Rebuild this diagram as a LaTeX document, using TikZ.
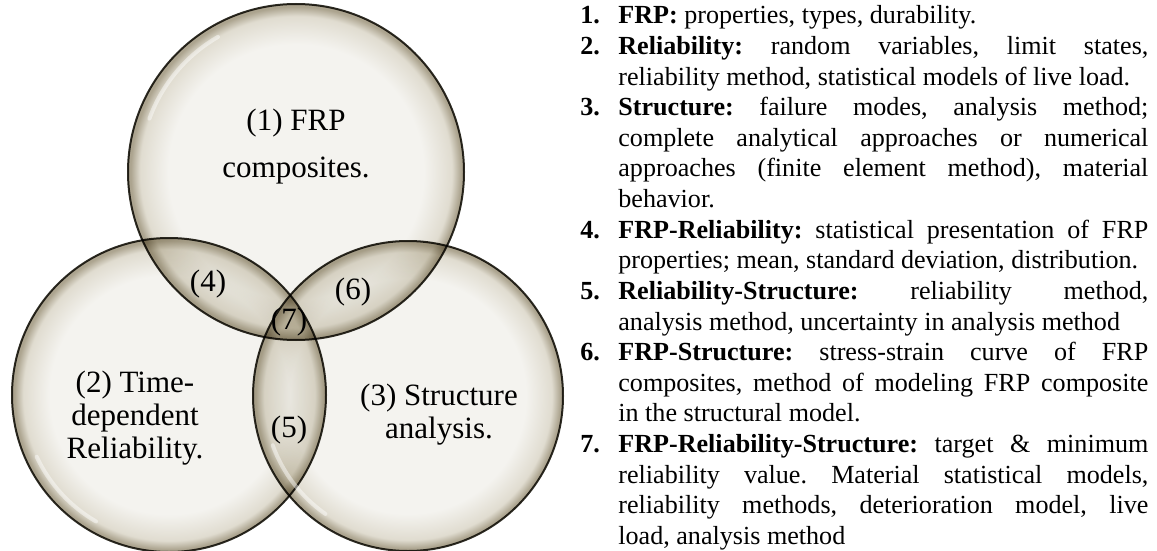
\documentclass[tikz,border=0pt]{standalone}
\usepackage{fontspec}
\setmainfont{Liberation Serif}

\definecolor{bubin}{HTML}{F4F3EF}
\definecolor{bubmid}{HTML}{E0DCD0}
\definecolor{bubout}{HTML}{ACA48F}
\definecolor{bubline}{HTML}{2E2C24}

\pgfdeclareradialshading{bubble}{\pgfpoint{0bp}{0bp}}{color(0bp)=(bubin); color(19bp)=(bubin); color(23.2bp)=(bubmid); color(24.6bp)=(bubout); color(25bp)=(bubout); color(50bp)=(bubout)}

\tikzset{
  bubblenode/.style={circle, inner sep=0pt, shading=bubble, draw=bubline, line width=1pt},
  gloss/.style={white, line width=2pt, opacity=.45, line cap=round},
  bigtext/.style={align=center, inner sep=0pt, font=\fontsize{15.5}{16.5}\selectfont},
  listitem/.style={anchor=base west, text width=265pt, align=justify, inner sep=0pt,
    font=\fontsize{13.05}{15.3}\selectfont}
}
\newcommand{\itemno}[1]{\llap{\makebox[19pt][l]{\textbf{#1.}}}}
\tolerance=10000
\hbadness=10000
\hyphenpenalty=10000
\exhyphenpenalty=10000
\hfuzz=3pt
\frenchspacing

\begin{document}
\begin{tikzpicture}[x=0.5pt, y=-0.5pt]
    \useasboundingbox (0,0) rectangle (1157,551);

    % the three bubbles
    \begin{scope}[blend mode=multiply]
        \node[bubblenode, minimum size=168pt] (frp) at (296,172) {};
        \node[bubblenode, minimum size=157pt] (rel) at (169,395) {};
        \node[bubblenode, minimum size=155pt] (str) at (408,396) {};
    \end{scope}
    \draw[gloss] (frp.center) ++(160:78pt) arc[start angle=160, end angle=120, radius=78pt];
    \draw[gloss] (rel.center) ++(205:73pt) arc[start angle=205, end angle=240, radius=73pt];
    \draw[gloss] (str.center) ++(200:72pt) arc[start angle=200, end angle=235, radius=72pt];

    % labels in the bubbles
    \node[bigtext] (frptext) at (296,147) {(1) FRP\\[7pt]composites.};
    \node[bigtext] (reltext) at (135,418) {(2) Time-\\dependent\\Reliability.};
    \node[bigtext] (strtext) at (439,415) {(3) Structure\\analysis.};
    \node[bigtext] (frprel) at (208,284) {(4)};
    \node[bigtext] (relstr) at (289,430) {(5)};
    \node[bigtext] (frpstr) at (353,292) {(6)};
    \node[bigtext] (all) at (289,322) {(7)};

    % the list
    \node[listitem] (item1) at (618,24) {\itemno{1}\textbf{FRP:} properties, types, durability.};
    \node[listitem] (item2) at (618,54.6) {\itemno{2}\textbf{Reliability:} random variables, limit states,\linebreak
        reliability method, statistical models of live load.};
    \node[listitem] (item3) at (618,115.8) {\itemno{3}\textbf{Structure:} failure modes, analysis method;\linebreak
        complete analytical approaches or numerical\linebreak
        approaches (finite element method), material\linebreak
        behavior.};
    \node[listitem] (item4) at (618,238.2) {\itemno{4}\textbf{FRP-Reliability:} statistical presentation of FRP\linebreak
        properties; mean, standard deviation, distribution.};
    \node[listitem] (item5) at (618,299.4) {\itemno{5}\textbf{Reliability-Structure:} reliability method,\linebreak
        analysis method, uncertainty in analysis method};
    \node[listitem] (item6) at (618,360.6) {\itemno{6}\textbf{FRP-Structure:} stress-strain curve of FRP\linebreak
        composites, method of modeling FRP composite\linebreak
        in the structural model.};
    \node[listitem] (item7) at (618,452.4) {\itemno{7}\textbf{FRP-Reliability-Structure:} target \& minimum\linebreak
        reliability value. Material statistical models,\linebreak
        reliability methods, deterioration model, live\linebreak
        load, analysis method};
\end{tikzpicture}
\end{document}
